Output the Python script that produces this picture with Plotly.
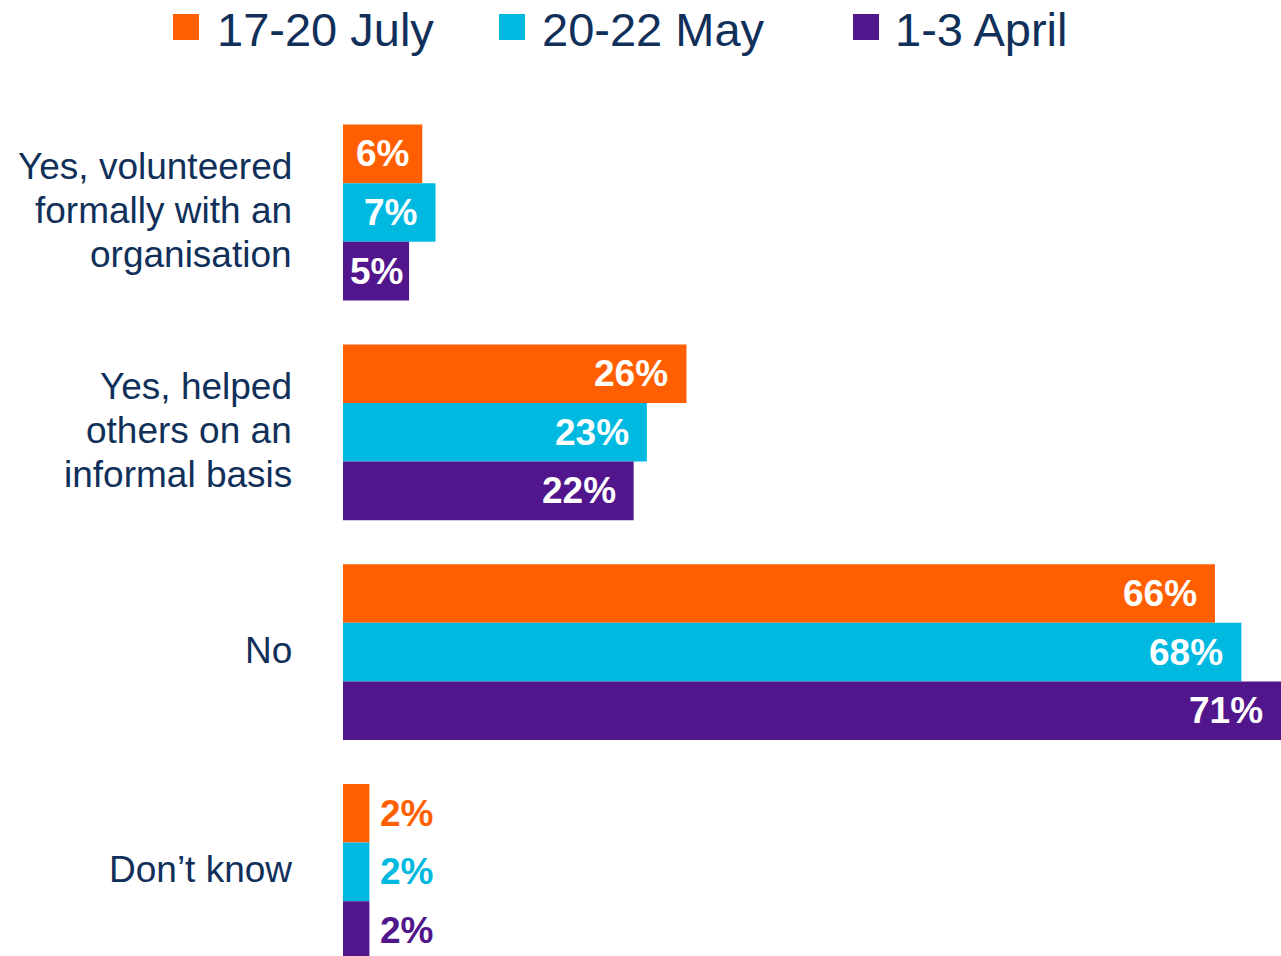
import plotly.graph_objects as go

# Survey answers, top to bottom (one entry per text line)
categories = [
    ["Yes, volunteered", "formally with an", "organisation"],
    ["Yes, helped", "others on an", "informal basis"],
    ["No"],
    ["Don\u2019t know"],
]
series_names = ["17-20 July", "20-22 May", "1-3 April"]
july = [6, 26, 66, 2]
may = [7, 23, 68, 2]
april = [5, 22, 71, 2]
series_values = [july, may, april]
colors = ["#FF5F00", "#00B9E0", "#51158C"]

TEXT = "#10305A"
FONT = "Liberation Sans, Arial, sans-serif"

W, H = 1281, 956
ML, MR, MT, MB = 343, 0, 100, 0
PW, PH = W - ML - MR, H - MT - MB

BARGAP = 0.2
n_series = len(series_names)
bar_w = (1 - BARGAP) / n_series
px_per_unit_x = PW / 71.0
LINE_H = 44


def px_x(p):
    return (p - ML) / PW


def px_y(p):
    return (H - MB - p) / PH


fig = go.Figure()
for name, vals, col in zip(series_names, series_values, colors):
    fig.add_trace(go.Bar(
        name=name, y=list(range(len(categories))), x=vals, orientation="h",
        marker=dict(color=col, line=dict(width=0)), showlegend=False,
        hoverinfo="x+name",
    ))

annotations = []
for i, (vals, col) in enumerate(zip(series_values, colors)):
    offset = (i - (n_series - 1) / 2) * bar_w
    for j, v in enumerate(vals):
        label = f"{v}%"
        bar_px = v * px_per_unit_x
        if bar_px < 45:
            # too short for the label: put it just past the bar end
            annotations.append(dict(x=v, y=j + offset, xref="x", yref="y", text=label,
                                    showarrow=False, xanchor="left", xshift=9,
                                    font=dict(family=FONT, size=37, color=col, weight="bold")))
        elif bar_px < 90:
            annotations.append(dict(x=v / 2, y=j + offset, xref="x", yref="y", text=label,
                                    showarrow=False, xanchor="center",
                                    font=dict(family=FONT, size=37, color="white", weight="bold")))
        else:
            annotations.append(dict(x=v, y=j + offset, xref="x", yref="y", text=label,
                                    showarrow=False, xanchor="right", xshift=-16,
                                    font=dict(family=FONT, size=37, color="white", weight="bold")))

# category labels, right-aligned left of the bars
for j, lines in enumerate(categories):
    n = len(lines)
    for k, line in enumerate(lines):
        annotations.append(dict(x=0, y=j, xref="x", yref="y", text=line,
                                showarrow=False, xanchor="right", yanchor="middle",
                                xshift=-49, yshift=((n - 1) / 2 - k) * LINE_H + 2,
                                font=dict(family=FONT, size=37, color=TEXT)))

# legend row drawn by hand so the swatches can be large
legend_items = [(173, 216), (499, 541), (853, 894)]
shapes = []
for (sx, tx), name, col in zip(legend_items, series_names, colors):
    shapes.append(dict(type="rect", xref="paper", yref="paper",
                       x0=px_x(sx), x1=px_x(sx + 26), y0=px_y(40), y1=px_y(14),
                       fillcolor=col, line=dict(width=0)))
    annotations.append(dict(x=px_x(tx), y=px_y(29), xref="paper", yref="paper",
                            text=name, showarrow=False, xanchor="left", yanchor="middle",
                            borderpad=0,
                            font=dict(family=FONT, size=47, color=TEXT)))

# category centres sit 219.8 px apart; first one at y=212.5
unit = 219.8
top = -(212.5 - MT) / unit
bottom = top + PH / unit

fig.update_layout(
    width=W, height=H,
    margin=dict(l=ML, r=MR, t=MT, b=MB, pad=0),
    paper_bgcolor="white", plot_bgcolor="white",
    barmode="group", bargap=BARGAP, bargroupgap=0,
    xaxis=dict(range=[0, 71], visible=False, fixedrange=True),
    yaxis=dict(range=[bottom, top], showticklabels=False,
               showgrid=False, zeroline=False, showline=False, ticks=""),
    shapes=shapes, annotations=annotations,
    font=dict(family=FONT, color=TEXT),
)

fig.write_html("out.html", config={"displayModeBar": False})
